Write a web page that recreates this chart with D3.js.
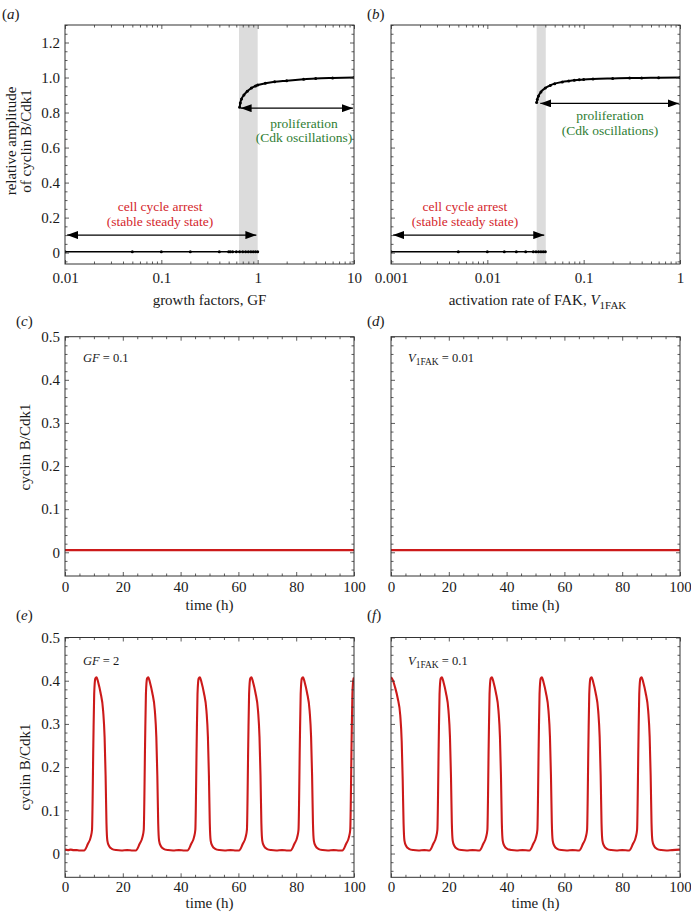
<!DOCTYPE html>
<html><head><meta charset="utf-8">
<script src="https://cdn.jsdelivr.net/npm/d3@7"></script>
<style>
body{margin:0;background:#fff}
svg{display:block}
text{font-family:"Liberation Serif","DejaVu Serif","Times New Roman",serif;fill:#1a1a1a}
</style>
</head><body>
<svg id="chart" width="691" height="915"></svg>
<script>
// ---------- DATA ----------
// (a) growth factors bifurcation
const gfSteady = [0.01,0.05,0.1,0.2,0.4,0.5,0.52,0.55,0.6,0.65,0.7,0.75,0.8,0.85,0.9,0.95,1.0];
const ampSteadyA = [0.005,0.005,0.005,0.005,0.005,0.005,0.005,0.005,0.005,0.005,0.005,0.005,0.005,0.005,0.005,0.005,0.005];
const gfOsc = [0.65,0.66,0.68,0.72,0.78,0.86,0.95,1.0,1.2,1.5,2,3,4,6,10];
const ampOscA = [0.83,0.855,0.878,0.9,0.922,0.94,0.952,0.957,0.967,0.976,0.982,0.99,0.995,0.998,1.0];
const gfBand = [0.64,1.0];
// (b) V1FAK bifurcation
const vSteady = [0.001,0.005,0.01,0.015,0.02,0.025,0.03,0.032,0.034,0.036,0.038,0.04];
const ampSteadyB = [0.005,0.005,0.005,0.005,0.005,0.005,0.005,0.005,0.005,0.005,0.005,0.005];
const vOsc = [0.0325,0.033,0.034,0.036,0.04,0.045,0.05,0.06,0.07,0.08,0.09,0.1,0.125,0.2,0.3,0.4,0.6,1.0];
const ampOscB = [0.857,0.875,0.895,0.918,0.94,0.955,0.965,0.975,0.98,0.984,0.987,0.989,0.992,0.995,0.997,0.998,0.999,1.0];
const vBand = [0.0325,0.0404];
// arrows [x0, x1, y]
const arrowsA = [[0.0105,0.97,0.1],[0.665,9.75,0.825]];
const arrowsB = [[0.00105,0.039,0.1],[0.0355,0.97,0.852]];
// (c),(d) time series : [time, cyclin B/Cdk1]
const seriesC = [[0,0.005],[100,0.005]];
const seriesD = [[0,0.005],[100,0.005]];
// (e) GF = 2
const seriesE = [
[0,.009],[1,.008],[2,.009],[3,.008],[4,.008],[5,.007],
[6.6,.007],[7.9,.022],[8.9,.038],[9.35,.055],[9.8,.25],[10.1,.37],[10.5,.405],[10.9,.408],[11.5,.396],[12.3,.372],[13.2,.33],[13.7,.27],[14.05,.18],[14.35,.07],[14.65,.03],[15.2,.018],[16.2,.011],[17.7,.008],[19.5,.007],[21.5,.008],[23.5,.007],
[24.5,.007],[25.8,.022],[26.8,.038],[27.25,.055],[27.7,.25],[28.0,.37],[28.4,.405],[28.8,.408],[29.4,.396],[30.2,.372],[31.1,.33],[31.6,.27],[31.95,.18],[32.25,.07],[32.55,.03],[33.1,.018],[34.1,.011],[35.6,.008],[37.4,.007],[39.4,.008],[41.4,.007],
[42.35,.007],[43.65,.022],[44.65,.038],[45.1,.055],[45.55,.25],[45.85,.37],[46.25,.405],[46.65,.408],[47.25,.396],[48.05,.372],[48.95,.33],[49.45,.27],[49.8,.18],[50.1,.07],[50.4,.03],[50.95,.018],[51.95,.011],[53.45,.008],[55.25,.007],[57.25,.008],[59.25,.007],
[60.2,.007],[61.5,.022],[62.5,.038],[62.95,.055],[63.4,.25],[63.7,.37],[64.1,.405],[64.5,.408],[65.1,.396],[65.9,.372],[66.8,.33],[67.3,.27],[67.65,.18],[67.95,.07],[68.25,.03],[68.8,.018],[69.8,.011],[71.3,.008],[73.1,.007],[75.1,.008],[77.1,.007],
[78.05,.007],[79.35,.022],[80.35,.038],[80.8,.055],[81.25,.25],[81.55,.37],[81.95,.405],[82.35,.408],[82.95,.396],[83.75,.372],[84.65,.33],[85.15,.27],[85.5,.18],[85.8,.07],[86.1,.03],[86.65,.018],[87.65,.011],[89.15,.008],[90.95,.007],[92.95,.008],[94.95,.007],
[95.95,.007],[97.25,.022],[98.25,.038],[98.7,.055],[99.15,.25],[99.45,.37],[99.85,.405],[100,.407]
];
// (f) V1FAK = 0.1
const seriesF = [
[0,.408],[0.6,.402],[1.4,.385],[2.3,.36],[3.2,.32],[3.7,.26],[4.05,.17],[4.35,.07],[4.65,.03],[5.2,.018],[6.2,.011],[7.7,.008],[9.5,.007],[11.5,.008],
[13.3,.007],[14.6,.022],[15.6,.038],[16.05,.055],[16.5,.25],[16.8,.37],[17.2,.405],[17.6,.408],[18.2,.396],[19.0,.372],[19.9,.33],[20.4,.27],[20.75,.18],[21.05,.07],[21.35,.03],[21.9,.018],[22.9,.011],[24.4,.008],[26.2,.007],[28.2,.008],
[30.6,.007],[31.9,.022],[32.9,.038],[33.35,.055],[33.8,.25],[34.1,.37],[34.5,.405],[34.9,.408],[35.5,.396],[36.3,.372],[37.2,.33],[37.7,.27],[38.05,.18],[38.35,.07],[38.65,.03],[39.2,.018],[40.2,.011],[41.7,.008],[43.5,.007],[45.5,.008],
[47.9,.007],[49.2,.022],[50.2,.038],[50.65,.055],[51.1,.25],[51.4,.37],[51.8,.405],[52.2,.408],[52.8,.396],[53.6,.372],[54.5,.33],[55.0,.27],[55.35,.18],[55.65,.07],[55.95,.03],[56.5,.018],[57.5,.011],[59.0,.008],[60.8,.007],[62.8,.008],
[65.1,.007],[66.4,.022],[67.4,.038],[67.85,.055],[68.3,.25],[68.6,.37],[69.0,.405],[69.4,.408],[70.0,.396],[70.8,.372],[71.7,.33],[72.2,.27],[72.55,.18],[72.85,.07],[73.15,.03],[73.7,.018],[74.7,.011],[76.2,.008],[78.0,.007],[80.0,.008],
[82.4,.007],[83.7,.022],[84.7,.038],[85.15,.055],[85.6,.25],[85.9,.37],[86.3,.405],[86.7,.408],[87.3,.396],[88.1,.372],[89.0,.33],[89.5,.27],[89.85,.18],[90.15,.07],[90.45,.03],[91.0,.018],[92.0,.011],[93.5,.008],[95.3,.007],[97.3,.008],[100,.009]
];
// tick labels
const gfTicks = [0.01,0.1,1,10];
const gfTickLabels = ["0.01","0.1","1","10"];
const vTicks = [0.001,0.01,0.1,1];
const vTickLabels = ["0.001","0.01","0.1","1"];
const ampTicks = [0,0.2,0.4,0.6,0.8,1.0,1.2];
const ampTickLabels = ["0","0.2","0.4","0.6","0.8","1.0","1.2"];
const timeTicks = [0,20,40,60,80,100];
const timeTickLabels = ["0","20","40","60","80","100"];
const cycTicks = [0,0.1,0.2,0.3,0.4,0.5];
const cycTickLabels = ["0","0.1","0.2","0.3","0.4","0.5"];

// ---------- DRAWING ----------
const svg = d3.select("#chart");
const RED_TXT = "#d4262c", GREEN_TXT = "#2f7d34", RED_LINE = "#cc1a1a";
const FS = 15, FS_ANN = 13.5;

const defs = svg.append("defs");
function marker(id, orient){
  defs.append("marker").attr("id",id).attr("markerUnits","userSpaceOnUse")
    .attr("viewBox","0 0 11 8").attr("markerWidth",11).attr("markerHeight",8)
    .attr("refX",11).attr("refY",4).attr("orient",orient)
    .append("path").attr("d","M0,0L11,4L0,8Z").attr("fill","#000");
}
marker("arrEnd","auto");
marker("arrStart","auto-start-reverse");

function logMinor(decades){
  const out=[];
  decades.forEach(d=>{for(let k=2;k<=9;k++) out.push(d*k);});
  return out;
}
function linMinor(lo, hi, step, majors){
  return d3.range(Math.ceil(lo/step-1e-9)*step, hi+1e-9, step)
    .filter(v=>!majors.some(m=>Math.abs(m-v)<1e-9));
}

function axesFrame(x, y, o){
  const [xl,xr] = x.range(), [yb,yt] = y.range();
  const g = svg.append("g");
  const add = (axis, tr) => {
    const a = g.append("g").attr("transform",tr).call(axis);
    a.select(".domain").remove();
    a.selectAll("line").attr("stroke","#333").attr("stroke-width",0.8);
    a.attr("font-family",null).attr("font-size",null);
    a.selectAll("text").attr("font-size",FS).attr("fill","#1a1a1a");
    return a;
  };
  const lab = arr => (d,i)=>arr[i];
  add(d3.axisBottom(x).tickValues(o.xMajor).tickSize(-4).tickPadding(o.xPad).tickFormat(lab(o.xLabels)), `translate(0,${yb})`);
  add(d3.axisBottom(x).tickValues(o.xMinor).tickSize(-2.5).tickFormat(""), `translate(0,${yb})`);
  add(d3.axisTop(x).tickValues(o.xMajor).tickSize(-4).tickFormat(""), `translate(0,${yt})`);
  add(d3.axisTop(x).tickValues(o.xMinor).tickSize(-2.5).tickFormat(""), `translate(0,${yt})`);
  add(d3.axisLeft(y).tickValues(o.yMajor).tickSize(-4).tickPadding(o.yPad||4).tickFormat(o.yLabels?lab(o.yLabels):""), `translate(${xl},0)`);
  add(d3.axisLeft(y).tickValues(o.yMinor).tickSize(-2.5).tickFormat(""), `translate(${xl},0)`);
  add(d3.axisRight(y).tickValues(o.yMajor).tickSize(-4).tickFormat(""), `translate(${xr},0)`);
  add(d3.axisRight(y).tickValues(o.yMinor).tickSize(-2.5).tickFormat(""), `translate(${xr},0)`);
  g.append("rect").attr("x",xl).attr("y",yt).attr("width",xr-xl).attr("height",yb-yt)
    .attr("fill","none").attr("stroke","#333").attr("stroke-width",1);
}

function clip(id, x, y){
  const [xl,xr] = x.range(), [yb,yt] = y.range();
  defs.append("clipPath").attr("id",id).append("rect")
    .attr("x",xl).attr("y",yt).attr("width",xr-xl).attr("height",yb-yt);
  return `url(#${id})`;
}

function panelLabel(letter, px, py){
  const t = svg.append("text").attr("x",px).attr("y",py).attr("font-size",FS);
  t.append("tspan").text("(");
  t.append("tspan").attr("font-style","italic").text(letter);
  t.append("tspan").text(")");
}

// ---- bifurcation panels ----
function bifPanel(x, y, band, xs, ys, xo, yo, arrows, redPos, greenPos, id){
  const cp = clip(id, x, y);
  const [yb,yt] = y.range();
  svg.append("rect").attr("x",x(band[0])).attr("y",yt).attr("width",x(band[1])-x(band[0])).attr("height",yb-yt)
    .attr("fill","#dcdcdc");
  const line = d3.line().x(d=>x(d[0])).y(d=>y(d[1]));
  const lineC = d3.line().x(d=>x(d[0])).y(d=>y(d[1])).curve(d3.curveMonotoneX);
  const sd = xs.map((v,i)=>[v,ys[i]]), od = xo.map((v,i)=>[v,yo[i]]);
  const g = svg.append("g").attr("clip-path",cp);
  g.append("path").attr("d",line(sd)).attr("fill","none").attr("stroke","#000").attr("stroke-width",1.6);
  g.append("path").attr("d",lineC(od)).attr("fill","none").attr("stroke","#000").attr("stroke-width",2);
  g.selectAll("circle.s").data(sd).join("circle").attr("class","s").attr("cx",d=>x(d[0])).attr("cy",d=>y(d[1])).attr("r",1.5).attr("fill","#000");
  g.selectAll("circle.o").data(od).join("circle").attr("class","o").attr("cx",d=>x(d[0])).attr("cy",d=>y(d[1])).attr("r",1.5).attr("fill","#000");
  arrows.forEach(a=>{
    svg.append("line").attr("x1",x(a[0])).attr("x2",x(a[1])).attr("y1",y(a[2])).attr("y2",y(a[2]))
      .attr("stroke","#000").attr("stroke-width",1.3)
      .attr("marker-start","url(#arrStart)").attr("marker-end","url(#arrEnd)");
  });
  const tx = (p, lines, col) => lines.forEach((s,i)=>{
    svg.append("text").attr("x",x(p[0])).attr("y",y(p[1+i])).attr("text-anchor","middle")
      .attr("dominant-baseline","central").attr("font-size",FS_ANN).style("fill",col).text(s);
  });
  tx(redPos, ["cell cycle arrest","(stable steady state)"], RED_TXT);
  tx(greenPos, ["proliferation","(Cdk oscillations)"], GREEN_TXT);
}

const ampMinor = linMinor(-0.065,1.3,0.05,ampTicks);

// (a)
const xA = d3.scaleLog().domain([0.01,10]).range([65,354]);
const yA = d3.scaleLinear().domain([-0.065,1.3]).range([264,25]);
bifPanel(xA,yA,gfBand,gfSteady,ampSteadyA,gfOsc,ampOscA,arrowsA,[0.097,0.264,0.176],[3.03,0.738,0.655],"cpA");
axesFrame(xA,yA,{xMajor:gfTicks,xLabels:gfTickLabels,xMinor:logMinor([0.01,0.1,1]),xPad:8,
  yMajor:ampTicks,yLabels:ampTickLabels,yMinor:ampMinor,yPad:5});
svg.append("text").attr("x",(65+354)/2).attr("y",305).attr("text-anchor","middle").attr("font-size",FS).text("growth factors, GF");
[["relative amplitude",11],["of cyclin B/Cdk1",26]].forEach(([s,cx])=>{
  svg.append("text").attr("transform",`translate(${cx},141) rotate(-90)`).attr("text-anchor","middle")
    .attr("dominant-baseline","central").attr("font-size",FS).text(s);
});
panelLabel("a",2,19);

// (b)
const xB = d3.scaleLog().domain([0.001,1]).range([391,680]);
const yB = d3.scaleLinear().domain([-0.065,1.3]).range([264,25]);
bifPanel(xB,yB,vBand,vSteady,ampSteadyB,vOsc,ampOscB,arrowsB,[0.00586,0.264,0.176],[0.1875,0.782,0.70],"cpB");
axesFrame(xB,yB,{xMajor:vTicks,xLabels:vTickLabels,xMinor:logMinor([0.001,0.01,0.1]),xPad:8,
  yMajor:ampTicks,yLabels:null,yMinor:ampMinor});
{
  const t = svg.append("text").attr("x",(391+680)/2+2).attr("y",305).attr("text-anchor","middle").attr("font-size",FS);
  t.append("tspan").text("activation rate of FAK, ");
  t.append("tspan").attr("font-style","italic").text("V");
  t.append("tspan").attr("font-size",11).attr("dy",4).text("1FAK");
}
panelLabel("b",367,19);

// ---- time course panels ----
const cycMinor = linMinor(-0.055,0.5,0.02,cycTicks);
const timeMinor = linMinor(0,100,5,timeTicks);

function timePanel(x, y, data, id, xPad, showY){
  const cp = clip(id, x, y);
  const line = d3.line().x(d=>x(d[0])).y(d=>y(d[1])).curve(d3.curveMonotoneX);
  svg.append("path").attr("clip-path",cp).attr("d",line(data)).attr("fill","none")
    .attr("stroke",RED_LINE).attr("stroke-width",2.1).attr("stroke-linejoin","round");
  axesFrame(x,y,{xMajor:timeTicks,xLabels:timeTickLabels,xMinor:timeMinor,xPad:xPad,
    yMajor:cycTicks,yLabels:showY?cycTickLabels:null,yMinor:cycMinor,yPad:5});
}
function gfNote(x0, yb, val){
  const t = svg.append("text").attr("x",x0).attr("y",yb).attr("font-size",12.5);
  t.append("tspan").attr("font-style","italic").text("GF");
  t.append("tspan").text(" = " + val);
}
function vNote(x0, yb, val){
  const t = svg.append("text").attr("x",x0).attr("y",yb).attr("font-size",12.5);
  t.append("tspan").attr("font-style","italic").text("V");
  t.append("tspan").attr("font-size",9.5).attr("dy",3).text("1FAK");
  t.append("tspan").attr("dy",-3).text(" = " + val);
}
function yTitle(cy){
  svg.append("text").attr("transform",`translate(25,${cy}) rotate(-90)`).attr("text-anchor","middle")
    .attr("dominant-baseline","central").attr("font-size",FS).text("cyclin B/Cdk1");
}
function xTitle(cx, yb){
  svg.append("text").attr("x",cx).attr("y",yb).attr("text-anchor","middle").attr("font-size",FS).text("time (h)");
}

// (c)
const xC = d3.scaleLinear().domain([0,100]).range([65,354]);
const yC = d3.scaleLinear().domain([-0.055,0.5]).range([576,336.7]);
timePanel(xC,yC,seriesC,"cpC",5,true);
gfNote(83,362,"0.1"); yTitle(447); xTitle(209.5,610); panelLabel("c",16,326);

// (d)
const xD = d3.scaleLinear().domain([0,100]).range([391,680]);
const yD = d3.scaleLinear().domain([-0.055,0.5]).range([576,336.7]);
timePanel(xD,yD,seriesD,"cpD",5,false);
vNote(408,362,"0.01"); xTitle(535.5,610); panelLabel("d",367,326);

// (e)
const xE = d3.scaleLinear().domain([0,100]).range([65,354]);
const yE = d3.scaleLinear().domain([-0.055,0.5]).range([877.3,637.5]);
timePanel(xE,yE,seriesE,"cpE",4,true);
gfNote(83,665,"2"); yTitle(767); xTitle(209.5,908); panelLabel("e",16,620);

// (f)
const xF = d3.scaleLinear().domain([0,100]).range([391,680]);
const yF = d3.scaleLinear().domain([-0.055,0.5]).range([877.3,637.5]);
timePanel(xF,yF,seriesF,"cpF",4,false);
vNote(408,665,"0.1"); xTitle(535.5,908); panelLabel("f",367,620);
</script>
</body></html>
